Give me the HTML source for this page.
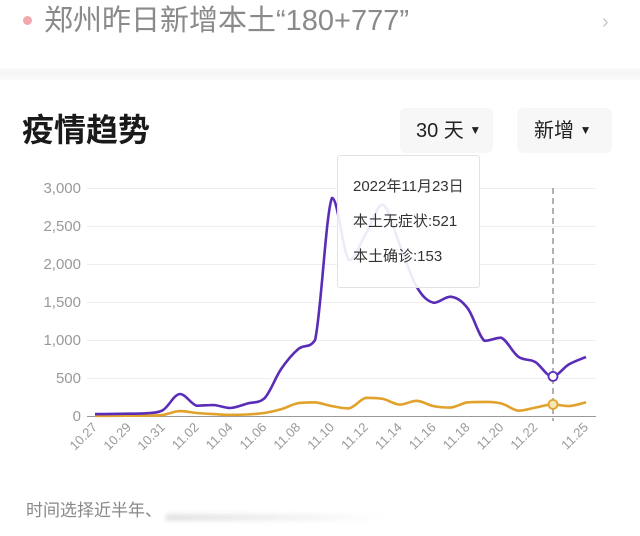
<!DOCTYPE html>
<html><head><meta charset="utf-8">
<style>
html,body{margin:0;padding:0;background:#fff;}
body{width:640px;height:536px;position:relative;overflow:hidden;font-family:"Liberation Sans","Noto Sans CJK SC",sans-serif;}
.abs{position:absolute;white-space:nowrap;}
</style></head>
<body>
<div class="abs" style="left:23px;top:16px;width:9px;height:9px;border-radius:50%;background:#f2a9ae;"></div>
<div class="abs" style="left:44px;top:1px;font-size:29px;line-height:40px;color:#8a8a8a;">郑州昨日新增本土“180+777”</div>
<div class="abs" style="left:602px;top:8px;font-size:20px;line-height:28px;color:#c8c8c8;">&#x203A;</div>
<div class="abs" style="left:0;top:68px;width:640px;height:12px;background:linear-gradient(#fbfbfb,#f4f4f4,#fafafa);"></div>
<div class="abs" style="left:22px;top:108px;font-size:32px;line-height:44px;font-weight:bold;color:#1a1a1a;">疫情趋势</div>
<div class="abs" style="left:400px;top:108px;width:93px;height:45px;background:#f7f7f7;border-radius:6px;"></div>
<div class="abs" style="left:416px;top:117px;font-size:20px;line-height:28px;color:#222;">30 天 <span style="font-size:12px;position:relative;top:-3px;">&#9660;</span></div>
<div class="abs" style="left:517px;top:108px;width:95px;height:45px;background:#f7f7f7;border-radius:6px;"></div>
<div class="abs" style="left:534px;top:117px;font-size:20px;line-height:28px;color:#222;">新增 <span style="font-size:12px;position:relative;top:-3px;">&#9660;</span></div>

<svg class="abs" style="left:0;top:0" width="640" height="536" xmlns="http://www.w3.org/2000/svg" id="chart">
<g stroke="#eeeeee" stroke-width="1">
<line x1="87" y1="188.5" x2="596" y2="188.5"/>
<line x1="87" y1="226.5" x2="596" y2="226.5"/>
<line x1="87" y1="264.5" x2="596" y2="264.5"/>
<line x1="87" y1="302.5" x2="596" y2="302.5"/>
<line x1="87" y1="340.5" x2="596" y2="340.5"/>
<line x1="87" y1="378.5" x2="596" y2="378.5"/>
</g>
<line x1="87" y1="416.5" x2="596" y2="416.5" stroke="#999" stroke-width="1"/>
<g font-family="Liberation Sans, sans-serif" font-size="15" fill="#999" text-anchor="end">
<text x="81" y="193">3,000</text>
<text x="81" y="231">2,500</text>
<text x="81" y="269">2,000</text>
<text x="81" y="307">1,500</text>
<text x="81" y="345">1,000</text>
<text x="81" y="383">500</text>
<text x="81" y="421">0</text>
</g>
<g id="xl" font-family="Liberation Sans, sans-serif" font-size="13" fill="#999" text-anchor="end"></g>
<line x1="553" y1="188" x2="553" y2="421" stroke="#888" stroke-width="1.3" stroke-dasharray="6,4"/>
<path id="po" fill="none" stroke="#e0a22a" stroke-width="2.6" stroke-linejoin="round"/>
<path id="pp" fill="none" stroke="#5a2db8" stroke-width="2.6" stroke-linejoin="round"/>
<circle cx="553" cy="376.4" r="4.5" fill="#fff" stroke="#5a2db8" stroke-width="1.8"/>
<circle cx="553" cy="404.4" r="4.5" fill="#f6e7b5" stroke="#e0a22a" stroke-width="1.8"/>
</svg>

<div class="abs" style="left:337px;top:155px;width:141px;height:131px;background:rgba(255,255,255,0.9);border:1px solid #e2e2e2;border-radius:3px;"></div>
<div class="abs" style="left:353px;top:176px;font-size:15px;line-height:22px;color:#333;">2022年11月23日</div>
<div class="abs" style="left:353px;top:211px;font-size:15px;line-height:22px;color:#333;">本土无症状:521</div>
<div class="abs" style="left:353px;top:246px;font-size:15px;line-height:22px;color:#333;">本土确诊:153</div>

<div class="abs" style="left:26px;top:499px;font-size:17px;line-height:24px;color:#888;">时间选择近半年、</div>
<div class="abs" style="left:165px;top:514px;width:220px;height:7px;background:linear-gradient(90deg,#e2e2e2,#f0f0f0 50%,rgba(255,255,255,0));filter:blur(2px);border-radius:4px;"></div>

<script>
(function(){
var P=[25,28,30,35,75,290,135,145,105,165,230,620,880,1000,2870,2050,2400,2780,2250,1700,1490,1570,1420,990,1030,780,710,521,680,777];
var O=[3,3,4,5,15,65,40,25,15,20,40,90,170,180,130,100,240,225,150,200,130,110,180,185,165,70,110,153,130,180];
var x0=95,dx=(586-95)/29;
function X(i){return x0+i*dx;}
function Y(v){return 416-v*0.076;}
function path(d){
  var pts=d.map(function(v,i){return [X(i),Y(v)];});
  var s="M"+pts[0][0].toFixed(1)+" "+pts[0][1].toFixed(1);
  var t=0.18;
  for(var i=0;i<pts.length-1;i++){
    var p0=pts[Math.max(0,i-1)],p1=pts[i],p2=pts[i+1],p3=pts[Math.min(pts.length-1,i+2)];
    var c1x=p1[0]+(p2[0]-p0[0])*t,c1y=p1[1]+(p2[1]-p0[1])*t;
    var c2x=p2[0]-(p3[0]-p1[0])*t,c2y=p2[1]-(p3[1]-p1[1])*t;
    var lo=Math.min(p1[1],p2[1]),hi=Math.max(p1[1],p2[1]);
    c1y=Math.max(lo,Math.min(hi,c1y));c2y=Math.max(lo,Math.min(hi,c2y));
    s+=" C"+c1x.toFixed(1)+" "+c1y.toFixed(1)+" "+c2x.toFixed(1)+" "+c2y.toFixed(1)+" "+p2[0].toFixed(1)+" "+p2[1].toFixed(1);
  }
  return s;
}
document.getElementById("pp").setAttribute("d",path(P));
document.getElementById("po").setAttribute("d",path(O));
var labels=["10.27","10.28","10.29","10.30","10.31","11.01","11.02","11.03","11.04","11.05","11.06","11.07","11.08","11.09","11.10","11.11","11.12","11.13","11.14","11.15","11.16","11.17","11.18","11.19","11.20","11.21","11.22","11.23","11.24","11.25"];
var g=document.getElementById("xl"),ns="http://www.w3.org/2000/svg";
for(var i=0;i<30;i++){
  if(!(i%2==0 && i<=26) && i!=29) continue;
  var t=document.createElementNS(ns,"text");
  var x=X(i)+3,y=428;
  t.setAttribute("x",x);t.setAttribute("y",y);
  t.setAttribute("transform","rotate(-45 "+x+" "+y+")");
  t.textContent=labels[i];
  g.appendChild(t);
}
})();
</script>
</body></html>
